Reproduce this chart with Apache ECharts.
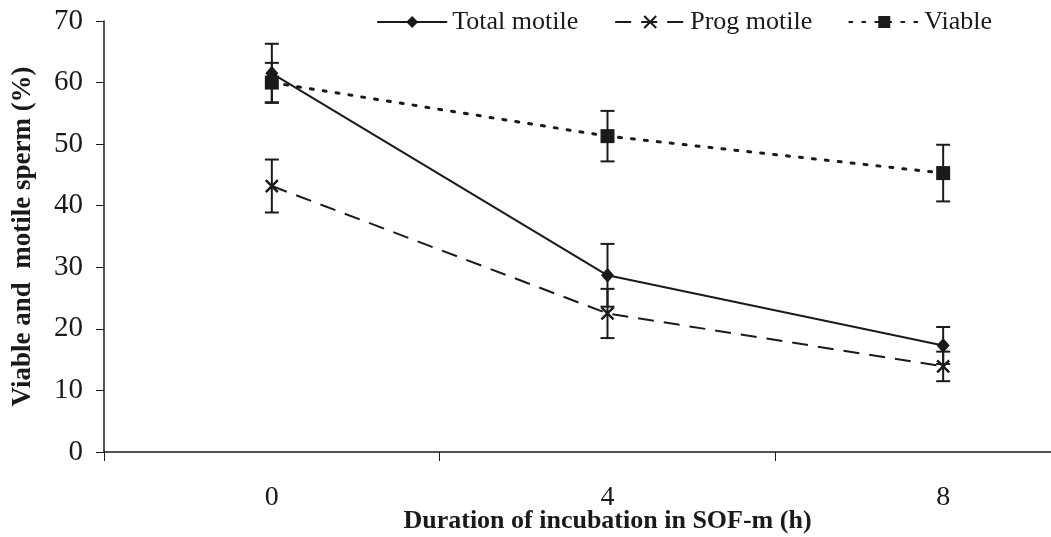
<!DOCTYPE html>
<html>
<head>
<meta charset="utf-8">
<script src="https://cdn.jsdelivr.net/npm/echarts@6/dist/echarts.min.js"></script>
<style>
  html, body { margin: 0; padding: 0; background: #fff; overflow: hidden; }
  /* plot runs past the right edge, as in the cropped original */
  #chart { width: 1111px; height: 537px; }
</style>
</head>
<body>
<div id="chart"></div>
<script>
// incubation time (h)
var categories = ['0', '4', '8'];
var yTicks = [0, 10, 20, 30, 40, 50, 60, 70];

var totalMotile = [61.5, 28.7, 17.3];
var totalMotileErr = [4.8, 5.1, 3.0];
var progMotile = [43.2, 22.5, 13.9];
var progMotileErr = [4.3, 4.0, 2.4];
var viable = [60.0, 51.3, 45.3];
var viableErr = [3.2, 4.1, 4.6];

var serif = '"Liberation Serif", "DejaVu Serif", serif';
var ink = '#1a1a1a';

function errData(vals, errs) {
    return vals.map(function (v, i) {
        return [i, v - errs[i], v + errs[i]];
    });
}

function errBars(params, api) {
    var x = api.value(0);
    var lo = api.coord([x, api.value(1)]);
    var hi = api.coord([x, api.value(2)]);
    var hw = 7;
    var st = { stroke: ink, lineWidth: 2 };
    return {
        type: 'group',
        children: [
            { type: 'line', shape: { x1: lo[0], y1: lo[1], x2: hi[0], y2: hi[1] }, style: st },
            { type: 'line', shape: { x1: lo[0] - hw, y1: lo[1], x2: lo[0] + hw, y2: lo[1] }, style: st },
            { type: 'line', shape: { x1: hi[0] - hw, y1: hi[1], x2: hi[0] + hw, y2: hi[1] }, style: st }
        ]
    };
}

var myChart = echarts.init(document.getElementById('chart'));

var option = {
    animation: false,
    backgroundColor: '#fff',
    legend: {
        data: ['Total motile', 'Prog motile', 'Viable'],
        top: 4,
        right: 114,
        itemWidth: 70,
        itemHeight: 15,
        itemGap: 36,
        textStyle: { fontFamily: serif, fontSize: 26, color: ink }
    },
    grid: { left: 104, right: 0, top: 21, bottom: 85, outerBoundsMode: 'none' },
    xAxis: {
        type: 'category',
        data: categories,
        boundaryGap: true,
        name: 'Duration of incubation in SOF-m (h)',
        nameLocation: 'middle',
        nameGap: 56,
        nameMoveOverlap: false,
        nameTextStyle: { fontFamily: serif, fontSize: 26, fontWeight: 'bold', color: ink },
        axisLine: { lineStyle: { color: ink, width: 1.5 } },
        axisTick: { show: true, alignWithLabel: false, length: 9, lineStyle: { color: ink } },
        axisLabel: { fontFamily: serif, fontSize: 28, color: ink, margin: 32 },
        splitLine: { show: false }
    },
    yAxis: {
        type: 'value',
        min: yTicks[0],
        max: yTicks[yTicks.length - 1],
        interval: 10,
        name: 'Viable and  motile sperm (%)',
        nameLocation: 'middle',
        nameGap: 67,
        nameMoveOverlap: false,
        nameTextStyle: { fontFamily: serif, fontSize: 27, fontWeight: 'bold', color: ink },
        axisLine: { show: true, lineStyle: { color: ink, width: 1.5 } },
        axisTick: { show: true, length: 8, lineStyle: { color: ink } },
        axisLabel: { fontFamily: serif, fontSize: 29, color: ink, margin: 21 },
        splitLine: { show: false }
    },
    series: [
        {
            name: 'Total motile',
            type: 'line',
            data: totalMotile,
            symbol: 'diamond',
            symbolSize: [13, 15],
            lineStyle: { color: ink, width: 2, type: 'solid' },
            itemStyle: { color: ink },
            z: 3
        },
        {
            name: 'Prog motile',
            type: 'line',
            data: progMotile,
            symbol: 'path://M0,0L10,10M10,0L0,10',
            symbolSize: 12,
            lineStyle: { color: ink, width: 2, type: [16, 10] },
            itemStyle: { color: ink, borderColor: ink, borderWidth: 2.5 },
            z: 3
        },
        {
            name: 'Viable',
            type: 'line',
            data: viable,
            symbol: 'rect',
            symbolSize: 14,
            lineStyle: { color: ink, width: 3, type: [3, 10], cap: 'round' },
            itemStyle: { color: ink },
            z: 3
        },
        { type: 'custom', renderItem: errBars, data: errData(totalMotile, totalMotileErr), z: 2 },
        { type: 'custom', renderItem: errBars, data: errData(progMotile, progMotileErr), z: 2 },
        { type: 'custom', renderItem: errBars, data: errData(viable, viableErr), z: 2 }
    ]
};

myChart.setOption(option);
</script>
</body>
</html>
